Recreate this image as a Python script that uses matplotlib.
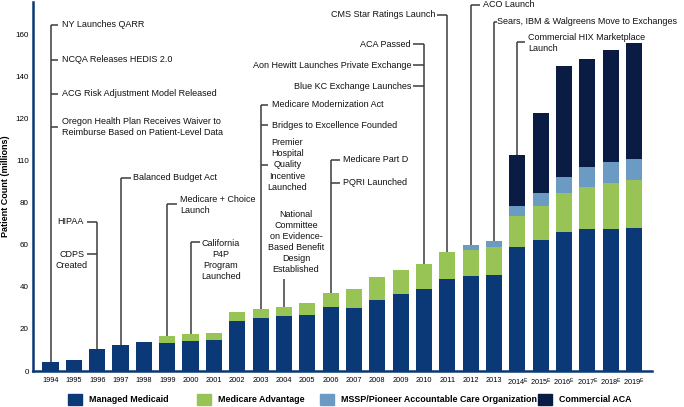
import matplotlib
matplotlib.use('Agg')
import matplotlib.pyplot as plt
import matplotlib.patches as mpatches
import numpy as np

plt.rcParams['font.family'] = ['Liberation Sans', 'DejaVu Sans']
plt.rcParams['mathtext.fontset'] = 'custom'
plt.rcParams['mathtext.rm'] = 'Liberation Sans'
plt.rcParams['mathtext.it'] = 'Liberation Sans'
plt.rcParams['mathtext.bf'] = 'Liberation Sans:bold'

# ---------------- data ----------------
years = [str(y) for y in range(1994, 2014)] + ['%d$^{\\mathrm{E}}$' % y for y in range(2014, 2020)]
managed_medicaid = [4.4, 5.4, 10.3, 12.2, 13.7, 13.2, 14.1, 14.9, 23.8, 25.4, 26.2, 26.8, 30.6,
                    30.0, 33.7, 36.8, 39.0, 44.0, 45.2, 45.6, 59.2, 62.4, 66.2, 67.5, 67.5, 68.1]
medicare_advantage = [0, 0, 0, 0, 0, 3.5, 3.4, 3.3, 4.3, 4.3, 4.3, 5.6, 6.5,
                      8.9, 11.1, 11.1, 12.0, 12.5, 12.4, 13.3, 14.6, 16.2, 18.4, 20.3, 21.9, 22.7]
mssp_aco = [0] * 18 + [2.3, 3.0, 4.8, 6.0, 7.6, 9.2, 10.3, 10.0]
commercial_aca = [0] * 20 + [24.3, 38.1, 53.2, 51.4, 53.2, 55.2]

series_names = ['Managed Medicaid', 'Medicare Advantage',
                'MSSP/Pioneer Accountable Care Organization', 'Commercial ACA']
ytick_values = [0, 20, 40, 60, 80, 100, 120, 140, 160]
ytick_labels = ['0', '20', '40', '60', '80', '110', '120', '140', '160']
ylabel = 'Patient Count (millions)'

# event annotation texts
ev_ny = 'NY Launches QARR'
ev_ncqa = 'NCQA Releases HEDIS 2.0'
ev_acg = 'ACG Risk Adjustment Model Released'
ev_oregon = 'Oregon Health Plan Receives Waiver to\nReimburse Based on Patient-Level Data'
ev_bba = 'Balanced Budget Act'
ev_hipaa = 'HIPAA'
ev_cdps = 'CDPS\nCreated'
ev_mplus = 'Medicare + Choice\nLaunch'
ev_calp4p = 'California\nP4P\nProgram\nLaunched'
ev_mma = 'Medicare Modernization Act'
ev_bte = 'Bridges to Excellence Founded'
ev_premier = 'Premier\nHospital\nQuality\nIncentive\nLaunched'
ev_ncebbd = 'National\nCommittee\non Evidence-\nBased Benefit\nDesign\nEstablished'
ev_partd = 'Medicare Part D'
ev_pqri = 'PQRI Launched'
ev_aca = 'ACA Passed'
ev_aon = 'Aon Hewitt Launches Private Exchange'
ev_bluekc = 'Blue KC Exchange Launches'
ev_cms = 'CMS Star Ratings Launch'
ev_aco = 'ACO Launch'
ev_sears = 'Sears, IBM & Walgreens Move to Exchanges'
ev_hix = 'Commercial HIX Marketplace\nLaunch'

# ---------------- style ----------------
c_mm = '#0b3876'
c_ma = '#98c455'
c_ms = '#6b9bc3'
c_ca = '#0b1c44'
c_line = '#3c3c3c'
fs = 6.5

fig = plt.figure(figsize=(6.84, 4.07), dpi=100)
ax = fig.add_axes([33 / 684, 1 - 371 / 407, (652 - 33) / 684, 369 / 407])

x = np.arange(len(years))
w = 0.69
mm = np.array(managed_medicaid)
ma = np.array(medicare_advantage)
ms = np.array(mssp_aco)
ca = np.array(commercial_aca)
ax.bar(x, mm, w, color=c_mm, zorder=2)
ax.bar(x, ma, w, bottom=mm, color=c_ma, zorder=2)
ax.bar(x, ms, w, bottom=mm + ma, color=c_ms, zorder=2)
ax.bar(x, ca, w, bottom=mm + ma + ms, color=c_ca, zorder=2)
totals = mm + ma + ms + ca

ax.set_xlim(-0.75, 25.77)
ax.set_ylim(0, 175.7)
ax.set_xticks(x)
ax.set_xticklabels(years, fontsize=5.3)
ax.set_yticks(ytick_values)
ax.set_yticklabels(ytick_labels, fontsize=5.8)
ax.tick_params(length=0)
ax.tick_params(axis='x', pad=4)
ax.tick_params(axis='y', pad=3)
for s in ['top', 'right']:
    ax.spines[s].set_visible(False)
for s in ['left', 'bottom']:
    ax.spines[s].set_color(c_mm)
    ax.spines[s].set_linewidth(1.8)
ax.set_ylabel(ylabel, fontsize=6.5, fontweight='bold')
ax.yaxis.set_label_coords(-0.0365, 0.5)


def bracket(i, y_top, ticks, side, tlen):
    ax.plot([i, i], [totals[i], y_top], color=c_line, lw=1.1, clip_on=False, zorder=3,
            solid_capstyle='butt')
    d = tlen if side == 'right' else -tlen
    for ty in ticks:
        ax.plot([i, i + d], [ty, ty], color=c_line, lw=1.1, clip_on=False, zorder=3,
                solid_capstyle='butt')


def label(tx, ty, s, ha):
    ax.text(tx, ty, s, fontsize=fs, ha=ha, va='center', multialignment=ha,
            linespacing=1.3, color='#111111', zorder=4)


bracket(0, 164.8, [164.8, 148.1, 131.9, 116.3], 'right', 0.33)
label(0.49, 164.8, ev_ny, 'left')
label(0.49, 148.1, ev_ncqa, 'left')
label(0.49, 131.9, ev_acg, 'left')
label(0.49, 116.0, ev_oregon, 'left')

bracket(3, 92.0, [92.0], 'right', 0.45)
label(3.53, 92.0, ev_bba, 'left')

bracket(2, 71.1, [71.1, 55.6], 'left', 0.43)
label(1.44, 71.1, ev_hipaa, 'right')
label(0.90, 52.9, ev_cdps, 'center')

bracket(5, 79.4, [79.4], 'right', 0.42)
label(5.55, 79.0, ev_mplus, 'left')

bracket(6, 61.6, [61.6], 'right', 0.42)
label(7.30, 53.0, ev_calp4p, 'center')

bracket(9, 126.7, [126.7, 117.1, 98.1], 'right', 0.33)
label(9.48, 126.7, ev_mma, 'left')
label(9.48, 117.1, ev_bte, 'left')
label(10.15, 98.1, ev_premier, 'center')

bracket(10, 43.7, [], 'right', 0)
label(10.52, 61.4, ev_ncebbd, 'center')

bracket(12, 100.5, [100.5, 89.7], 'right', 0.4)
label(12.52, 100.5, ev_partd, 'left')
label(12.52, 89.7, ev_pqri, 'left')

bracket(16, 155.7, [155.7, 145.7, 135.7], 'left', 0.45)
label(15.45, 155.7, ev_aca, 'right')
label(15.45, 145.7, ev_aon, 'right')
label(15.45, 135.7, ev_bluekc, 'right')

bracket(17, 169.7, [169.7], 'left', 0.45)
label(16.47, 169.7, ev_cms, 'right')

bracket(18, 174.3, [174.3], 'right', 0.42)
label(18.52, 174.3, ev_aco, 'left')

bracket(19, 166.3, [166.3], 'right', 0.15)
label(19.13, 166.3, ev_sears, 'left')

bracket(20, 156.5, [156.5], 'right', 0.33)
label(20.47, 156.1, ev_hix, 'left')

# legend: one entry per series at its own position
colors = [c_mm, c_ma, c_ms, c_ca]
leg_x = [68, 197, 320, 538]
lfs = 6.4
for name, col, lx in zip(series_names, colors, leg_x):
    h = mpatches.Patch(color=col, label=name)
    lg = fig.legend(handles=[h], loc='center left', bbox_to_anchor=(lx / 684, 7.5 / 407),
                    frameon=False, borderpad=0, borderaxespad=0,
                    handlelength=14 / 8.9, handleheight=13 / 8.9, handletextpad=0.75,
                    prop={'size': lfs, 'weight': 'bold'})

fig.savefig('out.png', dpi=100)
